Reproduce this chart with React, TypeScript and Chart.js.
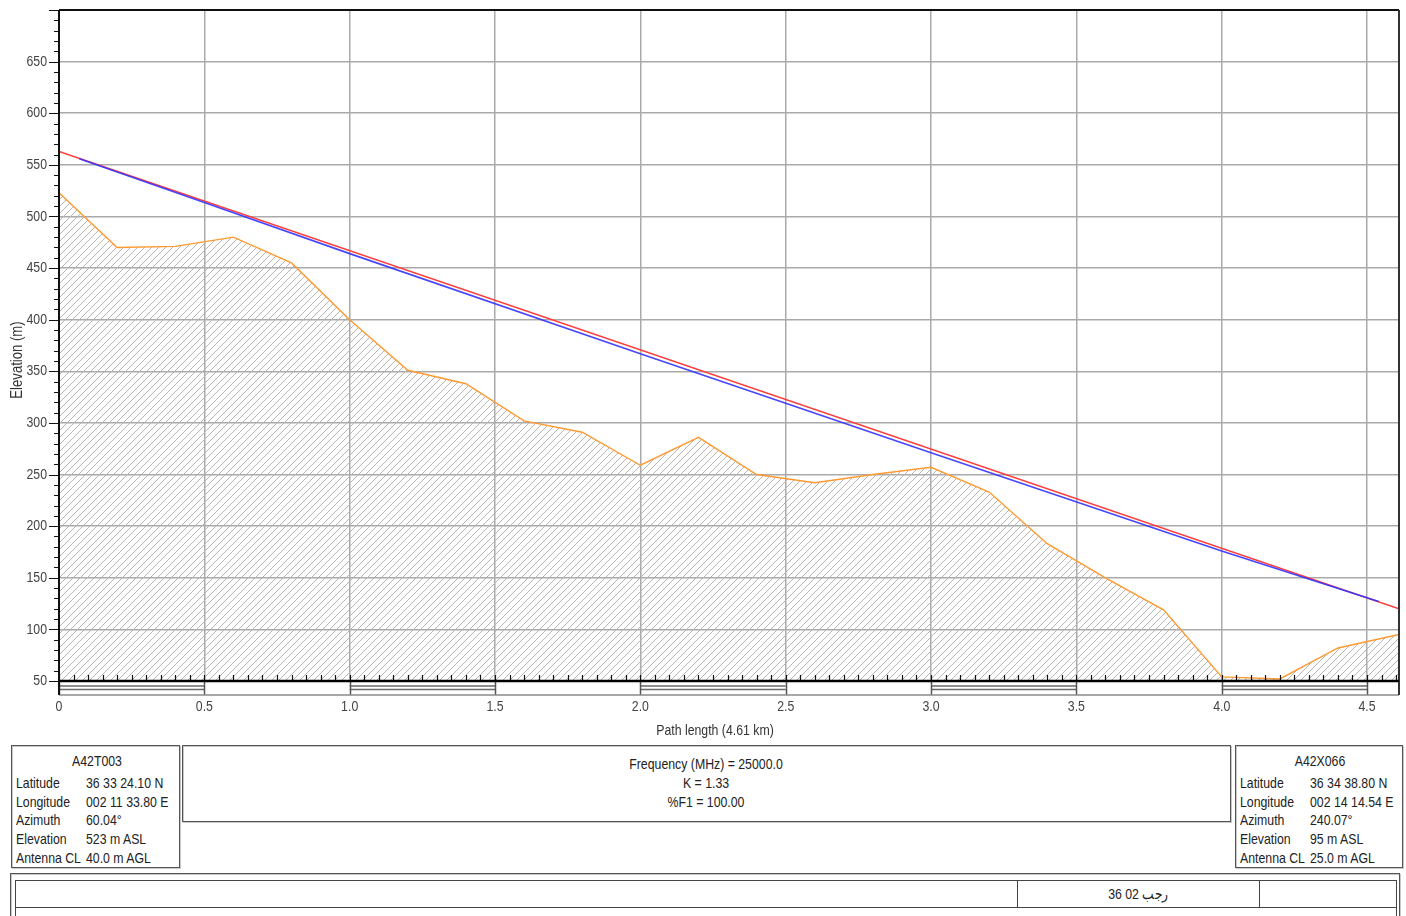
import React, { useEffect, useRef } from "react";
import { Chart, registerables } from "chart.js";

Chart.register(...registerables);

// ---- data ----
const terrainDistKm = [0, 0.2, 0.4, 0.6, 0.8, 1.0, 1.2, 1.4, 1.6, 1.8, 2.0, 2.2, 2.4, 2.6, 2.8, 3.0, 3.2, 3.4, 3.6, 3.8, 4.0, 4.2, 4.4, 4.61];
const terrainElevM = [523, 470, 471, 480, 455, 400, 351, 338, 302, 291, 259, 286, 250, 242, 250, 257, 233, 183, 150, 119, 54, 52, 82, 95];
const losDistKm = [0, 4.61];
const losElevM = [563, 120];
const beamDistKm = [0.07, 0.5, 1.0, 2.0, 3.0, 4.0, 4.54];
const beamElevM = [556, 513.5, 464, 367, 271, 176, 127];
const xTickValues = [0, 0.5, 1.0, 1.5, 2.0, 2.5, 3.0, 3.5, 4.0, 4.5];
const xTickLabels = ["0", "0.5", "1.0", "1.5", "2.0", "2.5", "3.0", "3.5", "4.0", "4.5"];
const yTickValues = [50, 100, 150, 200, 250, 300, 350, 400, 450, 500, 550, 600, 650];
const X_MAX = 4.61;
const Y_MIN = 50;
const Y_MAX = 700;

const xAxisTitle = "Path length (4.61 km)";
const yAxisTitle = "Elevation (m)";

const siteA = {
  name: "A42T003",
  rows: [
    ["Latitude", "36 33 24.10 N"],
    ["Longitude", "002 11 33.80 E"],
    ["Azimuth", "60.04°"],
    ["Elevation", "523 m ASL"],
    ["Antenna CL", "40.0 m AGL"],
  ],
};
const siteB = {
  name: "A42X066",
  rows: [
    ["Latitude", "36 34 38.80 N"],
    ["Longitude", "002 14 14.54 E"],
    ["Azimuth", "240.07°"],
    ["Elevation", "95 m ASL"],
    ["Antenna CL", "25.0 m AGL"],
  ],
};
const linkInfo = ["Frequency (MHz) = 25000.0", "K = 1.33", "%F1 = 100.00"];
const footerText = "36 02 رجب";

const FONT = "'Liberation Sans', Arial, sans-serif";
const SQUEEZE = 0.82;

function narrowText(ctx: CanvasRenderingContext2D, text: string, x: number, y: number, align: CanvasTextAlign) {
  ctx.save();
  ctx.translate(x, y);
  ctx.scale(SQUEEZE, 1);
  ctx.textAlign = align;
  ctx.fillText(text, 0, 0);
  ctx.restore();
}

const decorPlugin = {
  id: "decor",
  afterDraw(chart: any) {
    const { ctx, chartArea: a, scales } = chart;
    const x = scales.x;
    const y = scales.y;
    ctx.save();
    // y minor / major ticks (outside, left)
    ctx.strokeStyle = "#111";
    ctx.lineWidth = 1;
    for (let v = Y_MIN; v <= Y_MAX; v += 10) {
      const py = Math.round(y.getPixelForValue(v)) + 0.5;
      const len = v % 50 === 0 ? 10 : 5;
      ctx.beginPath();
      ctx.moveTo(a.left - len, py);
      ctx.lineTo(a.left, py);
      ctx.stroke();
    }
    // x minor ticks (inside, upward)
    ctx.lineWidth = 1.2;
    for (let i = 0; i * 0.05 <= X_MAX + 1e-9; i++) {
      const px = Math.round(x.getPixelForValue(i * 0.05)) + 0.5;
      ctx.beginPath();
      ctx.moveTo(px, a.bottom);
      ctx.lineTo(px, a.bottom - 6);
      ctx.stroke();
    }
    // distance scale band under the axis
    const bTop = a.bottom;
    const bBot = a.bottom + 14;
    for (let k = 0; k * 0.5 < X_MAX; k++) {
      const v0 = k * 0.5;
      const v1 = Math.min((k + 1) * 0.5, X_MAX);
      const p0 = x.getPixelForValue(v0);
      const p1 = x.getPixelForValue(v1);
      if (k % 2 === 0) {
        ctx.strokeStyle = "#6a6a6a";
        ctx.lineWidth = 1.5;
        ctx.beginPath();
        ctx.moveTo(p0, bTop + 5);
        ctx.lineTo(p1, bTop + 5);
        ctx.moveTo(p0, bTop + 8.5);
        ctx.lineTo(p1, bTop + 8.5);
        ctx.stroke();
      }
      ctx.strokeStyle = "#555";
      ctx.lineWidth = 1.5;
      ctx.beginPath();
      ctx.moveTo(Math.round(p0) + 0.5, bTop);
      ctx.lineTo(Math.round(p0) + 0.5, bBot);
      ctx.stroke();
    }
    ctx.strokeStyle = "#8a8a8a";
    ctx.lineWidth = 1.5;
    ctx.beginPath();
    ctx.moveTo(a.left, bBot);
    ctx.lineTo(a.right, bBot);
    ctx.stroke();
    // borders
    ctx.strokeStyle = "#111";
    ctx.lineWidth = 2;
    ctx.beginPath();
    ctx.moveTo(a.left, a.top);
    ctx.lineTo(a.right, a.top);
    ctx.stroke();
    ctx.beginPath();
    ctx.moveTo(a.left, a.top);
    ctx.lineTo(a.left, bBot);
    ctx.stroke();
    ctx.strokeStyle = "#333";
    ctx.beginPath();
    ctx.moveTo(a.right, a.top);
    ctx.lineTo(a.right, bBot);
    ctx.stroke();
    ctx.strokeStyle = "#000";
    ctx.lineWidth = 2.5;
    ctx.beginPath();
    ctx.moveTo(a.left, a.bottom);
    ctx.lineTo(a.right, a.bottom);
    ctx.stroke();
    // tick labels
    ctx.fillStyle = "#444";
    ctx.font = `15px ${FONT}`;
    ctx.textBaseline = "middle";
    yTickValues.forEach((v) => {
      narrowText(ctx, String(v), a.left - 12, y.getPixelForValue(v), "right");
    });
    xTickValues.forEach((v, i) => {
      narrowText(ctx, xTickLabels[i], x.getPixelForValue(v), 707, "center");
    });
    // axis titles
    ctx.fillStyle = "#333";
    narrowText(ctx, xAxisTitle, 715, 731, "center");
    ctx.translate(18, 360);
    ctx.rotate(-Math.PI / 2);
    ctx.font = `16px ${FONT}`;
    narrowText(ctx, yAxisTitle, 0, 0, "center");
    ctx.restore();
  },
};

function makeHatch(): CanvasPattern | string {
  const s = 7;
  const pc = document.createElement("canvas");
  pc.width = s;
  pc.height = s;
  const p = pc.getContext("2d");
  if (!p) return "rgba(160,160,160,0.3)";
  p.strokeStyle = "#b4b4b4";
  p.lineWidth = 1;
  p.beginPath();
  p.moveTo(0, s);
  p.lineTo(s, 0);
  p.moveTo(-1, 1);
  p.lineTo(1, -1);
  p.moveTo(s - 1, s + 1);
  p.lineTo(s + 1, s - 1);
  p.stroke();
  return p.createPattern(pc, "repeat") || "rgba(160,160,160,0.3)";
}

function ProfileChart() {
  const ref = useRef<HTMLCanvasElement | null>(null);
  useEffect(() => {
    if (!ref.current) return;
    const hatch = makeHatch();
    const toXY = (xs: number[], ys: number[]) => xs.map((v, i) => ({ x: v, y: ys[i] }));
    const chart = new Chart(ref.current, {
      type: "line",
      data: {
        datasets: [
          {
            label: "beam",
            data: toXY(beamDistKm, beamElevM),
            borderColor: "rgba(50,50,255,0.9)",
            borderWidth: 1.6,
            pointRadius: 0,
            fill: false,
            tension: 0,
          },
          {
            label: "los",
            data: toXY(losDistKm, losElevM),
            borderColor: "#ff3b3b",
            borderWidth: 1.6,
            pointRadius: 0,
            fill: false,
          },
          {
            label: "terrain",
            data: toXY(terrainDistKm, terrainElevM),
            borderColor: "#ff9a30",
            borderWidth: 1.4,
            pointRadius: 0,
            fill: "start",
            backgroundColor: hatch as any,
          },
        ],
      },
      options: {
        animation: false,
        responsive: false,
        layout: { padding: { top: 10, right: 7, left: 0, bottom: 0 } },
        plugins: { legend: { display: false }, tooltip: { enabled: false }, title: { display: false } },
        scales: {
          x: {
            type: "linear",
            min: 0,
            max: X_MAX,
            afterBuildTicks: (s: any) => {
              s.ticks = xTickValues.map((v) => ({ value: v }));
            },
            afterFit: (s: any) => {
              s.height = 64;
            },
            grid: {
              drawTicks: false,
              color: (c: any) => (c.tick && c.tick.value === 0 ? "rgba(0,0,0,0)" : "#aaaaaa"),
              lineWidth: 1.5,
            },
            border: { display: false },
            ticks: { display: false },
          },
          y: {
            type: "linear",
            min: Y_MIN,
            max: Y_MAX,
            afterBuildTicks: (s: any) => {
              s.ticks = yTickValues.map((v) => ({ value: v }));
            },
            afterFit: (s: any) => {
              s.width = 59;
            },
            grid: {
              drawTicks: false,
              color: (c: any) => (c.tick && c.tick.value === Y_MIN ? "rgba(0,0,0,0)" : "#aaaaaa"),
              lineWidth: 1.5,
            },
            border: { display: false },
            ticks: { display: false },
          },
        },
      },
      plugins: [decorPlugin],
    });
    return () => chart.destroy();
  }, []);
  return <canvas ref={ref} width={1406} height={745} style={{ display: "block", width: 1406, height: 745 }} />;
}

const boxStyle: React.CSSProperties = {
  position: "absolute",
  boxSizing: "border-box",
  border: "1px solid #555",
  boxShadow: "inset 1px 1px 0 #c8c8c8, 1px 1px 0 #c8c8c8",
  background: "#fff",
};

function Txt({ left, top, center, children }: { left: number; top: number; center?: boolean; children: React.ReactNode }) {
  return (
    <div
      style={{
        position: "absolute",
        left,
        top: top - 9,
        height: 18,
        lineHeight: "18px",
        whiteSpace: "nowrap",
        transform: center ? `translateX(-50%) scaleX(${SQUEEZE})` : `scaleX(${SQUEEZE})`,
        transformOrigin: center ? "center center" : "left center",
      }}
    >
      {children}
    </div>
  );
}

function SiteBox({ left, width, site }: { left: number; width: number; site: typeof siteA }) {
  const rowCenters = [37, 56, 74, 93, 112];
  return (
    <div style={{ ...boxStyle, left, top: 745, width, height: 123 }}>
      <Txt left={width / 2} top={15} center>
        {site.name}
      </Txt>
      {site.rows.map((r, i) => (
        <React.Fragment key={r[0]}>
          <Txt left={4} top={rowCenters[i]}>{r[0]}</Txt>
          <Txt left={74} top={rowCenters[i]}>{r[1]}</Txt>
        </React.Fragment>
      ))}
    </div>
  );
}

export default function App() {
  return (
    <div
      style={{
        position: "absolute",
        left: 0,
        top: 0,
        width: 1406,
        height: 916,
        overflow: "hidden",
        background: "#fff",
        fontFamily: FONT,
        fontSize: 15,
        color: "#222",
      }}
    >
      <div style={{ position: "absolute", left: 0, top: 0 }}>
        <ProfileChart />
      </div>
      <SiteBox left={11} width={169} site={siteA} />
      <div style={{ ...boxStyle, left: 182, top: 745, width: 1049, height: 77 }}>
        {linkInfo.map((t, i) => (
          <Txt key={t} left={523} top={[18, 37, 56][i]} center>
            {t}
          </Txt>
        ))}
      </div>
      <SiteBox left={1235} width={168} site={siteB} />
      <div style={{ ...boxStyle, left: 10, top: 873, width: 1390, height: 70 }} />
      <div style={{ position: "absolute", boxSizing: "border-box", left: 15, top: 880, width: 1382, height: 60, border: "1.5px solid #444" }} />
      <div style={{ position: "absolute", left: 15, top: 907, width: 1382, height: 0, borderTop: "1.5px solid #444" }} />
      <div style={{ position: "absolute", left: 1017, top: 880, width: 0, height: 27, borderLeft: "1.5px solid #444" }} />
      <div style={{ position: "absolute", left: 1259, top: 880, width: 0, height: 27, borderLeft: "1.5px solid #444" }} />
      <div style={{ position: "absolute", left: 1138, top: 0, direction: "ltr" }}>
        <Txt left={0} top={894} center>
          {footerText}
        </Txt>
      </div>
    </div>
  );
}
